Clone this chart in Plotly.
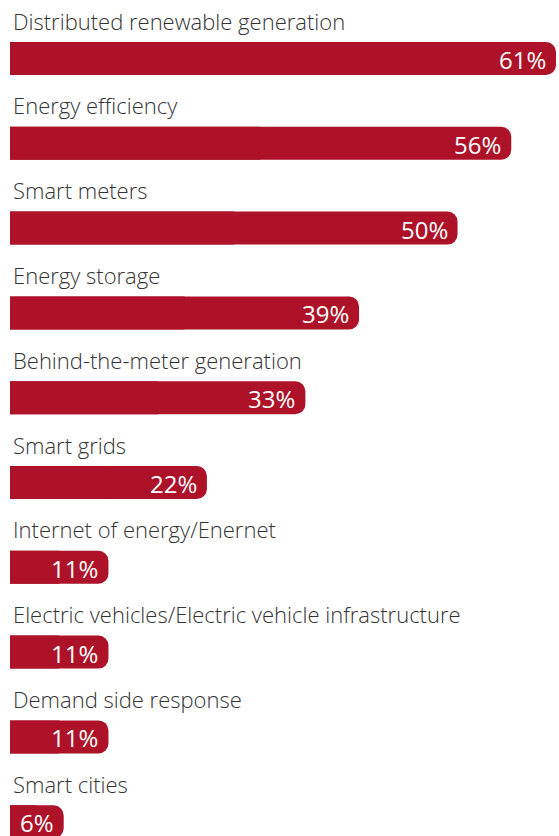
import plotly.graph_objects as go

categories = [
    "Distributed renewable generation",
    "Energy efficiency",
    "Smart meters",
    "Energy storage",
    "Behind-the-meter generation",
    "Smart grids",
    "Internet of energy/Enernet",
    "Electric vehicles/Electric vehicle infrastructure",
    "Demand side response",
    "Smart cities",
]
values = [61, 56, 50, 39, 33, 22, 11, 11, 11, 6]

BAR_COLOR = "#ad1229"
TEXT_COLOR = "#333333"
FONT = "Open Sans"

W, H = 559, 836
ROW = 84.8          # px between rows
BAR_PX = 33         # bar thickness in px
FIRST_CENTER = 58.5 # px from top to the first bar centre
X_LEFT = 10         # px where zero sits
PX_PER_UNIT = 546 / 61

rows = list(range(len(categories)))
y_top = -FIRST_CENTER / ROW
y_bottom = y_top + H / ROW
x_max = (W - X_LEFT) / PX_PER_UNIT
bar_w = BAR_PX / ROW

fig = go.Figure()
# rounded bars
fig.add_trace(go.Bar(
    x=values, y=rows, orientation="h", width=bar_w,
    marker=dict(color=BAR_COLOR, cornerradius=10, line=dict(width=0)),
    hoverinfo="skip",
))
# square left half to keep the left edge flat
fig.add_trace(go.Bar(
    x=[v / 2 for v in values], y=rows, orientation="h", width=bar_w,
    marker=dict(color=BAR_COLOR, line=dict(width=0)),
    hoverinfo="skip",
))

annotations = []
for i, (cat, v) in enumerate(zip(categories, values)):
    annotations.append(dict(
        x=0, y=i, xref="x", yref="y", text=cat, showarrow=False,
        xanchor="left", yanchor="middle", xshift=1, yshift=38,
        font=dict(family=FONT, size=22, color=TEXT_COLOR, weight=300),
    ))
    annotations.append(dict(
        x=v, y=i, xref="x", yref="y", text=f"{v}%", showarrow=False,
        xanchor="right", yanchor="middle", xshift=-8, yshift=-1,
        font=dict(family=FONT, size=24, color="white", weight=400),
    ))

fig.update_layout(
    width=W, height=H,
    margin=dict(l=X_LEFT, r=0, t=0, b=0),
    paper_bgcolor="white", plot_bgcolor="white",
    barmode="overlay", showlegend=False,
    xaxis=dict(range=[0, x_max], visible=False, fixedrange=True),
    yaxis=dict(range=[y_bottom, y_top], visible=False, fixedrange=True),
    annotations=annotations,
)

fig.write_html("out.html")
